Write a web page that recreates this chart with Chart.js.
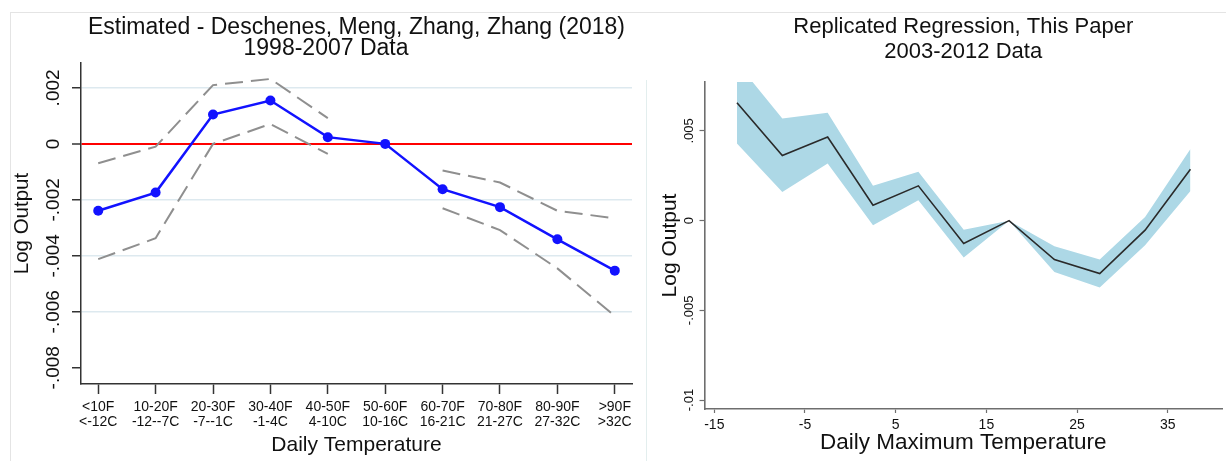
<!DOCTYPE html>
<html>
<head>
<meta charset="utf-8">
<title>Temperature and Log Output</title>
<script src="https://cdn.jsdelivr.net/npm/chart.js@4.4.1/dist/chart.umd.min.js"></script>
<style>
    html, body {
        margin: 0;
        padding: 0;
        background: #ffffff;
    }
    #page {
        position: relative;
        width: 1226px;
        height: 461px;
        overflow: hidden;
        background: #ffffff;
    }
    .frame {
        position: absolute;
        left: 10px;
        top: 12px;
        right: 0;
        bottom: 0;
        border-top: 1px solid #e4e4e4;
        border-left: 1px solid #e4e4e4;
    }
    .divider {
        position: absolute;
        left: 646px;
        top: 80px;
        width: 1px;
        bottom: 0;
        background: #e3eeee;
    }
    .panel {
        position: absolute;
        top: 0;
        height: 461px;
    }
    #left-panel {
        left: 0;
        width: 646px;
    }
    #right-panel {
        left: 646px;
        width: 580px;
    }
</style>
</head>
<body>
<div id="page">
    <div class="frame"></div>
    <div class="divider"></div>
    <div class="panel" id="left-panel"><canvas id="left-chart"></canvas></div>
    <div class="panel" id="right-panel"><canvas id="right-chart"></canvas></div>
</div>
<script>
(function () {
    'use strict';

    // Left panel: Deschenes, Meng, Zhang, Zhang (2018), temperature bins
    var leftBinsF = ['<10F', '10-20F', '20-30F', '30-40F', '40-50F', '50-60F', '60-70F', '70-80F', '80-90F', '>90F'];
    var leftBinsC = ['<-12C', '-12--7C', '-7--1C', '-1-4C', '4-10C', '10-16C', '16-21C', '21-27C', '27-32C', '>32C'];
    var leftEstimate = [-0.00239, -0.00174, 0.00105, 0.00155, 0.00024, 0, -0.00162, -0.00226, -0.00341, -0.00453];
    var leftUpper = [-0.00069, -0.0001, 0.0021, 0.00232, 0.00092, null, -0.00095, -0.00138, -0.00239, -0.00266];
    var leftLower = [-0.00412, -0.00337, 0, 0.00071, -0.00036, null, -0.0023, -0.00308, -0.00445, -0.00615];
    var leftYTicks = [0.002, 0, -0.002, -0.004, -0.006, -0.008];
    var leftYLabels = ['.002', '0', '-.002', '-.004', '-.006', '-.008'];

    // Right panel: replicated regression, daily maximum temperature
    var rightTemps = [-12.5, -7.5, -2.5, 2.5, 7.5, 12.5, 17.5, 22.5, 27.5, 32.5, 37.5];
    var rightEstimate = [0.00657, 0.00363, 0.00466, 0.00086, 0.00194, -0.00127, 0, -0.00217, -0.00295, -0.00053, 0.00287];
    var rightUpper = [0.0088, 0.00569, 0.00602, 0.00194, 0.00272, -0.0005, 0, -0.00142, -0.00217, 0.0002, 0.004];
    var rightLower = [0.0043, 0.0016, 0.00318, -0.00025, 0.00114, -0.00205, 0, -0.00286, -0.00373, -0.00137, 0.00166];
    var rightXTicks = [-15, -5, 5, 15, 25, 35];
    var rightYTicks = [0.005, 0, -0.005, -0.01];
    var rightYLabels = ['.005', '0', '-.005', '-.01'];

    var FONT = "'Liberation Sans', Arial, Helvetica, sans-serif";
    var TEXT = '#111111';

    Chart.defaults.font.family = FONT;
    Chart.defaults.color = TEXT;

    /**
     * Turn a list of values into {x, y} points on an index axis.
     */
    function byIndex(values) {
        return values.map(function (v, i) {
            return { x: i, y: v };
        });
    }

    /**
     * Turn a list of values into {x, y} points on given x positions.
     */
    function byX(xs, values) {
        return values.map(function (v, i) {
            return { x: xs[i], y: v };
        });
    }

    /**
     * Replace the ticks of a scale by a fixed list.
     */
    function fixedTicks(list) {
        return function (scale) {
            scale.ticks = list.map(function (v) {
                return { value: v };
            });
        };
    }

    /**
     * Initialize left chart.
     */
    function initLeftChart() {
        var canvas = document.getElementById('left-chart');
        var dashed = {
            borderColor: '#8f8f8f',
            borderWidth: 2,
            borderDash: [18, 8],
            pointRadius: 0,
            fill: false,
            spanGaps: false,
            tension: 0,
            order: 1
        };

        new Chart(canvas.getContext('2d'), {
            type: 'line',
            data: {
                datasets: [
                    Object.assign({ label: 'Upper', data: byIndex(leftUpper) }, dashed),
                    Object.assign({ label: 'Lower', data: byIndex(leftLower) }, dashed),
                    {
                        label: 'Estimate',
                        data: byIndex(leftEstimate),
                        borderColor: '#1212ff',
                        backgroundColor: '#1212ff',
                        borderWidth: 2.5,
                        pointRadius: 5,
                        pointBorderWidth: 0,
                        tension: 0,
                        order: 0
                    }
                ]
            },
            options: {
                responsive: true,
                maintainAspectRatio: false,
                animation: false,
                events: [],
                layout: {
                    padding: { left: 20, right: 14, top: 0, bottom: 0 }
                },
                plugins: {
                    legend: { display: false },
                    tooltip: { enabled: false },
                    title: {
                        display: true,
                        fullSize: false,
                        text: 'Estimated - Deschenes, Meng, Zhang, Zhang (2018)',
                        color: TEXT,
                        font: { size: 23, weight: 'normal', lineHeight: 1 },
                        padding: { top: 16, bottom: 0 }
                    },
                    subtitle: {
                        display: true,
                        fullSize: true,
                        text: '1998-2007 Data',
                        color: TEXT,
                        font: { size: 23, weight: 'normal', lineHeight: 1 },
                        padding: { top: -1.5, bottom: 2.5 }
                    }
                },
                scales: {
                    x: {
                        type: 'linear',
                        min: -0.3,
                        max: 9.3,
                        afterBuildTicks: fixedTicks(leftBinsF.map(function (b, i) { return i; })),
                        afterFit: function (scale) { scale.height = 77; },
                        grid: {
                            drawOnChartArea: false,
                            drawTicks: true,
                            tickLength: 10,
                            tickColor: '#333333',
                            tickWidth: 1.5
                        },
                        border: { color: '#333333', width: 1.5 },
                        ticks: {
                            autoSkip: false,
                            maxRotation: 0,
                            padding: 5,
                            color: TEXT,
                            font: { size: 14, lineHeight: 1.1 },
                            callback: function (value) {
                                return [leftBinsF[value], leftBinsC[value]];
                            }
                        },
                        title: {
                            display: true,
                            text: 'Daily Temperature',
                            color: TEXT,
                            font: { size: 21 },
                            padding: { top: 0, bottom: 3.4 }
                        }
                    },
                    y: {
                        min: -0.00858,
                        max: 0.00289,
                        afterBuildTicks: fixedTicks(leftYTicks),
                        afterFit: function (scale) { scale.width = 61; },
                        grid: {
                            color: function (ctx) {
                                var v = ctx.tick ? ctx.tick.value : null;
                                if (v === 0) {
                                    return '#ff0000';
                                }
                                if (v === -0.008) {
                                    return 'rgba(0,0,0,0)';
                                }
                                return '#dde9ef';
                            },
                            lineWidth: function (ctx) {
                                return ctx.tick && ctx.tick.value === 0 ? 2 : 1.5;
                            },
                            drawTicks: true,
                            tickLength: 9,
                            tickColor: '#333333',
                            tickWidth: 1.5
                        },
                        border: { color: '#333333', width: 1.5 },
                        ticks: {
                            autoSkip: false,
                            minRotation: 90,
                            maxRotation: 90,
                            crossAlign: 'center',
                            padding: -3.6,
                            color: TEXT,
                            font: { size: 19 },
                            callback: function (value) {
                                var i = leftYTicks.indexOf(value);
                                return i >= 0 ? leftYLabels[i] : '';
                            }
                        },
                        title: {
                            display: true,
                            text: 'Log Output',
                            color: TEXT,
                            font: { size: 20.5 },
                            padding: { top: -10.3, bottom: 0 }
                        }
                    }
                }
            }
        });
    }

    /**
     * Initialize right chart.
     */
    function initRightChart() {
        var canvas = document.getElementById('right-chart');

        new Chart(canvas.getContext('2d'), {
            type: 'line',
            data: {
                datasets: [
                    {
                        label: 'Upper',
                        data: byX(rightTemps, rightUpper),
                        borderWidth: 0,
                        pointRadius: 0,
                        backgroundColor: '#add8e6',
                        fill: '+1',
                        clip: 0,
                        tension: 0,
                        order: 2
                    },
                    {
                        label: 'Lower',
                        data: byX(rightTemps, rightLower),
                        borderWidth: 0,
                        pointRadius: 0,
                        fill: false,
                        clip: 0,
                        tension: 0,
                        order: 2
                    },
                    {
                        label: 'Estimate',
                        data: byX(rightTemps, rightEstimate),
                        borderColor: '#2a2a2a',
                        borderWidth: 1.6,
                        pointRadius: 0,
                        fill: false,
                        tension: 0,
                        order: 0
                    }
                ]
            },
            options: {
                responsive: true,
                maintainAspectRatio: false,
                animation: false,
                events: [],
                layout: {
                    padding: { left: 0, right: 4, top: 0, bottom: 0 }
                },
                plugins: {
                    legend: { display: false },
                    tooltip: { enabled: false },
                    title: {
                        display: true,
                        fullSize: false,
                        text: 'Replicated Regression, This Paper',
                        color: TEXT,
                        font: { size: 22, weight: 'normal', lineHeight: 1 },
                        padding: { top: 15.5, bottom: 0 }
                    },
                    subtitle: {
                        display: true,
                        fullSize: false,
                        text: '2003-2012 Data',
                        color: TEXT,
                        font: { size: 22, weight: 'normal', lineHeight: 1 },
                        padding: { top: 3.3, bottom: 19.2 }
                    }
                },
                scales: {
                    x: {
                        type: 'linear',
                        min: -16.08,
                        max: 40.98,
                        afterBuildTicks: fixedTicks(rightXTicks),
                        afterFit: function (scale) { scale.height = 52; },
                        grid: {
                            drawOnChartArea: false,
                            drawTicks: true,
                            tickLength: 4,
                            tickColor: '#6e6e6e',
                            tickWidth: 1.2
                        },
                        border: { color: '#6e6e6e', width: 1.6 },
                        ticks: {
                            autoSkip: false,
                            maxRotation: 0,
                            padding: 3.6,
                            color: TEXT,
                            font: { size: 14 }
                        },
                        title: {
                            display: true,
                            text: 'Daily Maximum Temperature',
                            color: TEXT,
                            font: { size: 22.5 },
                            padding: { top: 0, bottom: 4.5 }
                        }
                    },
                    y: {
                        min: -0.0105,
                        max: 0.00773,
                        afterBuildTicks: fixedTicks(rightYTicks),
                        afterFit: function (scale) { scale.width = 58.5; },
                        grid: {
                            drawOnChartArea: false,
                            drawTicks: true,
                            tickLength: 5,
                            tickColor: '#6e6e6e',
                            tickWidth: 1.2
                        },
                        border: { color: '#6e6e6e', width: 1.6 },
                        ticks: {
                            autoSkip: false,
                            minRotation: 90,
                            maxRotation: 90,
                            crossAlign: 'center',
                            padding: -4.3,
                            color: TEXT,
                            font: { size: 13 },
                            callback: function (value) {
                                var i = rightYTicks.indexOf(value);
                                return i >= 0 ? rightYLabels[i] : '';
                            }
                        },
                        title: {
                            display: true,
                            text: 'Log Output',
                            color: TEXT,
                            font: { size: 21 },
                            padding: { top: 11.4, bottom: 0 }
                        }
                    }
                }
            }
        });
    }

    initLeftChart();
    initRightChart();
})();
</script>
</body>
</html>
